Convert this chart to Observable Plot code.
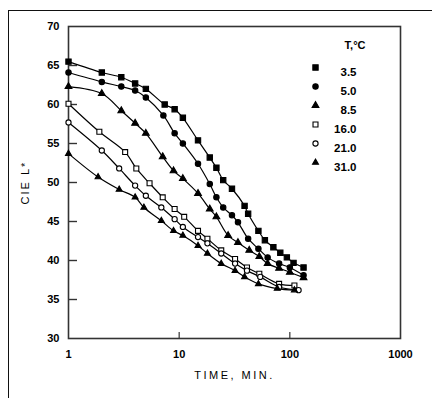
<!DOCTYPE html>
<html><head><meta charset="utf-8">
<script src="https://cdn.jsdelivr.net/npm/d3@7"></script>
<script src="https://cdn.jsdelivr.net/npm/@observablehq/plot@0.6"></script>
<style>
html,body{margin:0;padding:0;background:#fff;}
#wrap{position:relative;width:432px;height:398px;overflow:hidden;}
#border{position:absolute;left:8px;top:10px;width:440px;height:400px;border-top:1.5px solid #111;border-left:1.5px solid #111;pointer-events:none;}
g[aria-label="x-axis label"] text{letter-spacing:2.5px;font-weight:normal;}
g[aria-label="y-axis label"] text{letter-spacing:2px;font-weight:normal;}
g[aria-label="x-axis tick label"] text, g[aria-label="y-axis tick label"] text{font-weight:bold;}
g[aria-label="legend-title"] text{text-decoration:underline;}
</style></head><body><div id="wrap"><div id="border"></div></div>
<script>
const temps = ["3.5","5.0","8.5","16.0","21.0","31.0"];
const t35 = [1,2,3,4,5,7.4,9.1,10.8,14.8,18.9,21.7,25,30,39,42,52,59.5,71,82,94,108,133];
const L35 = [65.5,64.1,63.5,62.7,62.0,60.0,59.4,58.3,55.4,53.2,51.9,50.3,49.2,47.0,46.0,43.8,42.6,41.7,41.0,40.4,39.7,39.1];
const t50 = [1,2,3,4,5,7.2,9.1,10.8,14.8,18.9,21.7,25,30,34,42,52,63,80,100,133];
const L50 = [64.1,62.9,62.3,61.8,60.9,58.6,56.3,55.0,52.4,49.8,48.1,46.8,45.8,44.9,42.8,41.5,40.4,39.6,39.1,38.1];
const t85 = [1,2,3,4,5,7.1,8.9,10.8,14.8,18.9,21.7,27.7,34,43,53,63,80,100,133];
const L85 = [62.3,61.4,59.2,57.6,56.3,53.3,51.5,50.5,48.6,46.6,45.6,43.2,42.3,41.3,40.5,39.6,39.0,38.5,37.8];
const t160 = [1,1.9,3.25,4.1,5.4,7.1,9.1,11.1,14.8,18,24,32,41,53,80,110];
const L160 = [60.1,56.5,53.9,51.8,49.9,48.1,46.6,45.6,43.8,42.8,41.3,40.2,39.1,38.3,37.0,36.8];
const t210 = [1,2,2.87,4,5,6.9,9.1,10.8,14.8,18,24,32,41,54,80,120];
const L210 = [57.7,54.1,51.8,49.6,48.3,46.8,45.3,44.3,43.0,42.2,40.9,39.6,38.7,37.9,36.6,36.2];
const t310 = [1,1.85,2.87,4,4.8,6.9,8.9,10.8,14.8,18,24,32,39,52,77,110];
const L310 = [53.7,50.7,49.1,48.1,46.8,45.1,43.8,43.2,41.9,40.9,39.6,38.7,37.9,37.0,36.4,36.2];
const xTicks = [1,10,100,1000];
const yTicks = [30,35,40,45,50,55,60,65,70];

const seriesT = [t35,t50,t85,t160,t210,t310];
const seriesL = [L35,L50,L85,L160,L210,L310];
const symbols = ["square","circle","triangle","square","circle","triangle"];
const fills = ["black","black","black","white","white","black"];
const radii = [3.0,2.7,2.5,2.8,2.6,2.2];

const rows = [];
temps.forEach((T,i)=>seriesT[i].forEach((t,j)=>rows.push({T, t, L: seriesL[i][j]})));

const font = "'Liberation Sans',Arial,sans-serif";

const marks = [
  Plot.frame({stroke:"#333", strokeWidth:1.6}),
  Plot.tickY(yTicks.slice(1,-1), {y:d=>d, insetRight:323, stroke:"#333", strokeWidth:1.4}),
  Plot.tickX([10,100], {x:d=>d, insetTop:306, stroke:"#333", strokeWidth:1.2}),
  Plot.axisY({ticks:yTicks, tickSize:0, tickPadding:9, fontSize:11,
    label:"CIE L*", labelAnchor:"center", labelArrow:"none", labelOffset:47}),
  Plot.axisX({ticks:xTicks, tickFormat:d=>String(d), tickSize:0, tickPadding:12, fontSize:11,
    label:"TIME, MIN.", labelAnchor:"center", labelArrow:"none", labelOffset:40}),
  Plot.line(rows, {x:"t", y:"L", z:"T", curve:"catmull-rom", stroke:"black", strokeWidth:1.2})
];
temps.forEach((T,i)=>{
  marks.push(Plot.dot(rows.filter(r=>r.T===T), {x:"t", y:"L", symbol:symbols[i], r:radii[i], fill:fills[i], stroke:"black", strokeWidth:1.1}));
  marks.push(Plot.dot([T], {frameAnchor:"top-left", dx:247, dy:41+19*i, symbol:symbols[i], r:radii[i], fill:fills[i], stroke:"black", strokeWidth:1.1}));
  marks.push(Plot.text([T], {text:d=>d, frameAnchor:"top-left", dx:288, dy:41+19*i, textAnchor:"end", fontWeight:"bold", fontSize:11.5}));
});
marks.push(Plot.text(["\u00a0\u00a0T,°C\u00a0"], {text:d=>d, frameAnchor:"top-left", dx:270, dy:15, fontWeight:"bold", fontSize:11, ariaLabel:"legend-title"}));

const chart = Plot.plot({
  width:432, height:398,
  marginLeft:68, marginRight:32, marginTop:26, marginBottom:60,
  style:{fontFamily:font, color:"black", background:"transparent", overflow:"visible"},
  x:{type:"log", domain:[1,1000]},
  y:{domain:[30,70]},
  marks
});
document.getElementById("wrap").appendChild(chart);
chart.style.position="absolute"; chart.style.left="0"; chart.style.top="0";
</script></body></html>
